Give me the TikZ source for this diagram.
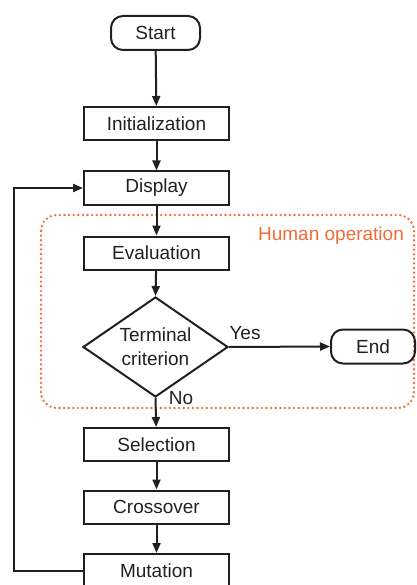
\documentclass[tikz,border=0pt]{standalone}
\usepackage{fontspec}
\setmainfont{Liberation Sans}
\usetikzlibrary{shapes.geometric,arrows.meta}
\definecolor{ink}{HTML}{231F20}
\definecolor{hum}{HTML}{F26A36}
\begin{document}
\begin{tikzpicture}[x=1pt,y=1pt,
  every node/.style={font=\fontsize{19}{24}\selectfont, text=ink},
  box/.style={draw=ink, line width=2pt, minimum width=145pt, minimum height=33pt, inner sep=0pt},
  term/.style={draw=ink, line width=2pt, rounded corners=12pt, minimum height=34pt, inner sep=0pt},
  dec/.style={draw=ink, line width=2pt, diamond, aspect=1.45, minimum width=145pt, minimum height=100pt, inner sep=0pt, align=center},
  arr/.style={draw=ink, line width=2pt, -{Triangle[length=10pt,width=8pt]}},
  lbl/.style={inner sep=0pt}]
\useasboundingbox (0,0) rectangle (416,-585);
% human operation region
\draw[hum, line width=2.6pt, line cap=round, dash pattern=on 0pt off 4.6pt, rounded corners=16pt] (41,-215) rectangle (414,-408);
\node[lbl, text=hum] (hlabel) at (331,-236) {Human operation};
\node[term, minimum width=89pt] (start) at (155.5,-33) {Start};
\node[box] (init) at (156.5,-123.5) {Initialization};
\node[box] (disp) at (156.5,-188) {Display};
\node[box] (eval) at (156.5,-253) {Evaluation};
\node[dec] (crit) at (155.5,-347) {Terminal\\criterion};
\node[term, minimum width=84pt] (end) at (373,-346.5) {End};
\node[box] (sel) at (156.5,-444.5) {Selection};
\node[box] (cross) at (156.5,-507) {Crossover};
\node[box, minimum height=34pt] (mut) at (156.5,-571) {Mutation};
\coordinate (fb) at (14,-380);
\draw[arr] (start) -- (init);
\draw[arr] (init) -- (disp);
\draw[arr] (disp) -- (eval);
\draw[arr] (eval) -- (crit.north);
\draw[arr] (crit.east) -- (end.west);
\draw[arr] (crit.south) -- (sel);
\draw[arr] (sel) -- (cross);
\draw[arr] (cross) -- (mut);
\draw[arr] (mut.west) -| (fb) |- (disp.west);
\node[lbl] (yes) at (245,-333) {Yes};
\node[lbl] (no) at (181,-398) {No};
\end{tikzpicture}
\end{document}
